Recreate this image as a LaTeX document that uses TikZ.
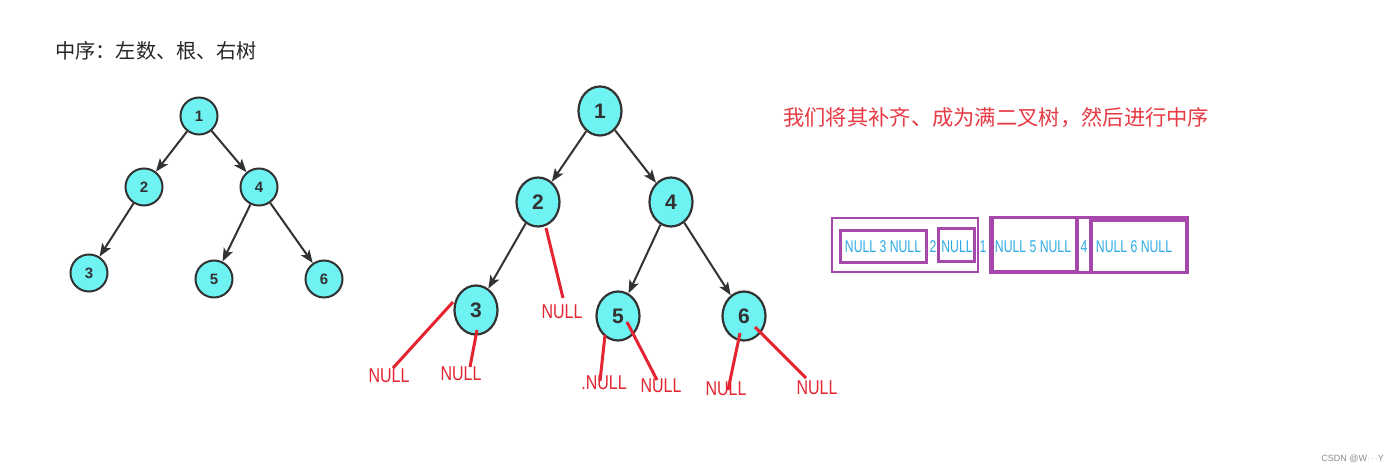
\documentclass[tikz,border=0pt]{standalone}
\usepackage{fontspec}
\setmainfont{Liberation Sans}
\newfontfamily\cjk{Noto Sans CJK SC}
\usetikzlibrary{arrows.meta,shapes.geometric}
\definecolor{nodefill}{RGB}{110,242,242}
\definecolor{edgegray}{RGB}{50,50,50}
\definecolor{nullred}{RGB}{228,36,48}
\definecolor{boxpurple}{RGB}{165,72,170}
\definecolor{boxtext}{RGB}{45,170,230}
\tikzset{
  smallnode/.style={circle,draw=edgegray,line width=2pt,fill=nodefill,minimum size=37pt,inner sep=0pt,
    font=\fontsize{15}{15}\selectfont\bfseries,text=edgegray},
  bignode/.style={ellipse,draw=edgegray,line width=2.2pt,fill=nodefill,minimum width=43pt,minimum height=49pt,inner sep=0pt,
    font=\fontsize{21}{21}\selectfont\bfseries,text=edgegray},
  treearrow/.style={draw=edgegray,line width=2pt,-{Stealth[length=13pt,width=10pt,inset=3pt]}},
  redline/.style={draw=nullred,line width=3pt},
  nulllabel/.style={text=nullred,inner sep=0pt,font=\fontsize{20}{20}\selectfont},
  boxline/.style={draw=boxpurple,line width=3.8pt},
  boxthin/.style={draw=boxpurple,line width=2.4pt},
  boxlabel/.style={text=boxtext,inner sep=0pt,font=\fontsize{17}{17}\selectfont},
}
\newcommand{\nar}[1]{\scalebox{0.8}[1]{#1}}
\newcommand{\narb}[1]{\scalebox{0.72}[1]{#1}}
\begin{document}
\begin{tikzpicture}[x=1pt,y=-1pt]
\useasboundingbox[fill=white] (0,0) rectangle (1400,473);

% titles
\node[anchor=west,inner sep=0pt,text=black!85,font=\cjk\fontsize{20.2}{21}\selectfont] (title) at (55,51) {中序：左数、根、右树};
\node[anchor=west,inner sep=0pt,text=nullred!90,font=\cjk\fontsize{21.3}{22}\selectfont] (note) at (783,118) {我们将其补齐、成为满二叉树，然后进行中序};

% left tree
\node[smallnode] (s1) at (199,116) {1};
\node[smallnode] (s2) at (144,187) {2};
\node[smallnode] (s4) at (259,187) {4};
\node[smallnode] (s3) at (89,273) {3};
\node[smallnode] (s5) at (214,279) {5};
\node[smallnode] (s6) at (324,279) {6};
\draw[treearrow] (s1) -- (s2);
\draw[treearrow] (s1) -- (s4);
\draw[treearrow] (s2) -- (s3);
\draw[treearrow] (s4) -- (s5);
\draw[treearrow] (s4) -- (s6);

% right tree
\node[bignode] (b1) at (600,111) {1};
\node[bignode] (b2) at (538,202) {2};
\node[bignode] (b4) at (671,202) {4};
\node[bignode] (b3) at (476,310) {3};
\node[bignode] (b5) at (618,316) {5};
\node[bignode] (b6) at (744,316) {6};
\draw[treearrow] (b1) -- (b2);
\draw[treearrow] (b1) -- (b4);
\draw[treearrow] (b2) -- (b3);
\draw[treearrow] (b4) -- (b5);
\draw[treearrow] (b4) -- (b6);

% NULL leaves
\node[nulllabel] (n2) at (562,312) {\nar{NULL}};
\node[nulllabel] (n3a) at (389,376) {\nar{NULL}};
\node[nulllabel] (n3b) at (461,374) {\nar{NULL}};
\node[nulllabel] (n5a) at (604,383) {\nar{.NULL}};
\node[nulllabel] (n5b) at (661,386) {\nar{NULL}};
\node[nulllabel] (n6a) at (726,389) {\nar{NULL}};
\node[nulllabel] (n6b) at (817,388) {\nar{NULL}};
\coordinate (e2) at (563,298);
\coordinate (e3a) at (393,368);
\coordinate (e3b) at (470,367);
\coordinate (e5a) at (600,381);
\coordinate (e5b) at (657,380);
\coordinate (e6a) at (728,390);
\coordinate (e6b) at (806,378);
\draw[redline] ([shift={(8,26)}]b2.center) -- (e2);
\draw[redline] ([shift={(-23,-8)}]b3.center) -- (e3a);
\draw[redline] ([shift={(1,20)}]b3.center) -- (e3b);
\draw[redline] ([shift={(-13,19)}]b5.center) -- (e5a);
\draw[redline] ([shift={(9,6)}]b5.center) -- (e5b);
\draw[redline] ([shift={(-4,17)}]b6.center) -- (e6a);
\draw[redline] ([shift={(11,11)}]b6.center) -- (e6b);

% in-order sequence with boxes
\node[boxthin,draw,rectangle,minimum width=146pt,minimum height=54pt,inner sep=0pt] (g1) at (905,245) {};
\node[boxline,draw,rectangle,minimum width=86pt,minimum height=32pt,inner sep=0pt] (g13) at (883.5,246.5) {};
\node[boxline,draw,rectangle,minimum width=36pt,minimum height=33pt,inner sep=0pt] (g1n) at (956.5,245) {};
\node[boxline,draw,rectangle,minimum width=197pt,minimum height=55pt,inner sep=0pt] (g2) at (1089,245) {};
\node[boxline,draw,rectangle,minimum width=85pt,minimum height=54pt,inner sep=0pt] (g25) at (1034.5,244.5) {};
\node[boxline,draw,rectangle,minimum width=96pt,minimum height=52pt,inner sep=0pt] (g26) at (1139,246.5) {};

\node[boxlabel] (t3) at (883,247) {\narb{NULL\ 3\ NULL}};
\node[boxlabel] (t2) at (933,247) {\narb{2}};
\node[boxlabel] (tn) at (957,247) {\narb{NULL}};
\node[boxlabel] (t1) at (983,247) {\narb{1}};
\node[boxlabel] (t5) at (1033,247) {\narb{NULL\ 5\ NULL}};
\node[boxlabel] (t4) at (1084,247) {\narb{4}};
\node[boxlabel] (t6) at (1134,247) {\narb{NULL\ 6\ NULL}};

% watermark
\node[anchor=east,inner sep=0pt,text=black!45,font=\fontsize{9}{9}\selectfont] (wm) at (1384,459) {CSDN @W$\cdots$Y};
\end{tikzpicture}
\end{document}
